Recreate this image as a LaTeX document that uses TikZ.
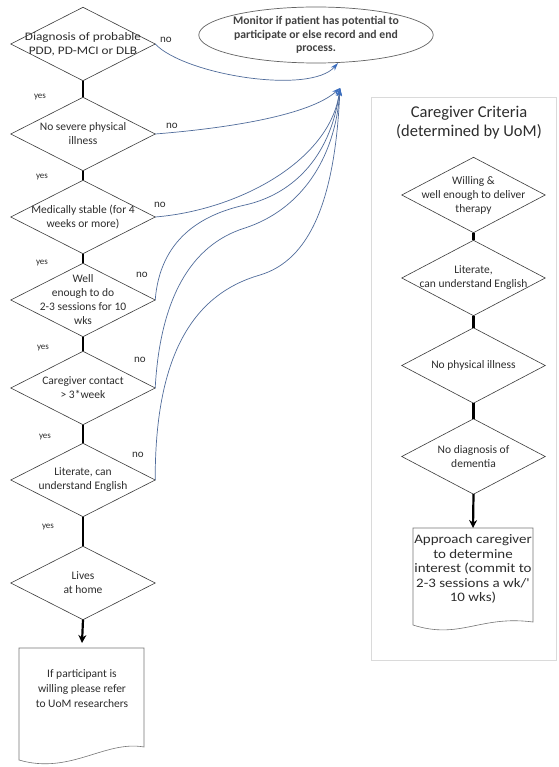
\documentclass[tikz,border=0pt]{standalone}
\usepackage{fontspec}
\setmainfont{Carlito}
\newfontfamily\widefont{Carlito}[FakeStretch=1.15]
\usetikzlibrary{shapes.geometric,arrows.meta,calc}
\definecolor{curveblue}{RGB}{80,108,155}
\definecolor{tipblue}{RGB}{60,110,190}
\definecolor{edgegray}{RGB}{60,60,60}
\definecolor{panelgray}{RGB}{218,218,218}
\definecolor{txt}{RGB}{45,45,45}
\begin{document}
\begin{tikzpicture}[x=1pt,y=-1pt,
  dia/.style={inner sep=0pt, minimum width=144pt, minimum height=73pt, align=center,
              font=\fontsize{11.5}{14}\selectfont, text=txt},
  rdia/.style={dia, minimum width=143pt, minimum height=75pt},
  diaedge/.style={draw=edgegray, line width=0.6pt},
  yesline/.style={line width=2.2pt, black},
  yesarrow/.style={line width=2.2pt, black, -{Stealth[length=8pt,width=8pt]}},
  nocurve/.style={draw=curveblue, line width=0.7pt, -{Stealth[length=8pt,width=5pt,color=tipblue]}},
  yeslab/.style={font=\fontsize{9}{10}\selectfont, text=txt, inner sep=0pt},
  nolab/.style={font=\fontsize{11}{12}\selectfont, text=txt, inner sep=0pt},
  doctext/.style={align=center, font=\fontsize{11.5}{15}\selectfont, text=txt, inner sep=0pt},
  docedge/.style={draw=edgegray!70, line width=0.6pt}
]
\useasboundingbox (0,0) rectangle (558,767);
\fill[white] (0,0) rectangle (558,767);

% right panel
\node[draw=panelgray, line width=0.8pt, minimum width=185pt, minimum height=563pt,
      anchor=north west, inner sep=0pt] (panel) at (371,97) {};
\node[align=center, font=\fontsize{16.5}{19}\selectfont, text=txt, inner sep=0pt] (title) at (469,122.5)
  {Caregiver Criteria\\(determined by UoM)};

% monitor ellipse
\node[ellipse, draw=edgegray!80, line width=0.7pt, minimum width=198pt, minimum height=56pt,
      inner sep=0pt, align=center, font=\bfseries\fontsize{11.7}{13.5}\selectfont, text=txt!90] (mon) at (316,35)
  {Monitor if patient has potential to\\participate or else record and end\\process.};

% left diamonds
\node[dia, font=\widefont\fontsize{11.5}{13.5}\selectfont] (d1) at (83,44)  {Diagnosis of probable\\PDD, PD-MCI or DLB};
\node[dia] (d2) at (83,134) {No severe physical\\illness};
\node[dia] (d3) at (83,217) {Medically stable (for 4\\weeks or more)};
\node[dia] (d4) at (83,300) {Well\\enough to do\\2-3 sessions for 10\\wks};
\node[dia] (d5) at (83,388) {Caregiver contact\\> 3*week};
\node[dia] (d6) at (83,480) {Literate, can\\understand English};
\node[dia] (d7) at (83,583) {Lives\\at home};

% right diamonds
\node[rdia] (r1) at (473.5,195)   {Willing \&\\well enough to deliver\\therapy};
\node[rdia] (r2) at (473.5,278)   {Literate,\\can understand English};
\node[rdia] (r3) at (473.5,365.5) {No physical illness};
\node[rdia] (r4) at (473.5,456.5) {No diagnosis of\\dementia};

\foreach \n in {d1,d2,d3,d4,d5,d6,d7,r1,r2,r3,r4}
  \draw[diaedge] (\n.north) -- (\n.east) -- (\n.south) -- (\n.west) -- cycle;

% documents
\node[doctext] (doc1) at (82,689) {If participant is\\willing please refer\\to UoM researchers};
\coordinate (doc1top) at ($(doc1.center)+(0,-41)$);
\draw[docedge] ($(doc1.center)+(-63,-41)$) -- ($(doc1.center)+(62,-41)$) -- ($(doc1.center)+(62,58)$)
  .. controls ($(doc1.center)+(23,51)$) and ($(doc1.center)+(-12,86)$) .. ($(doc1.center)+(-63,71)$) -- cycle;

\node[doctext, font=\widefont\fontsize{13}{14.5}\selectfont] (doc2) at (473,569)
  {Approach caregiver\\to determine\\interest (commit to\\2-3 sessions a wk/'\\10 wks)};
\coordinate (doc2top) at ($(doc2.center)+(0,-41)$);
\draw[docedge] ($(doc2.center)+(-60,-41)$) -- ($(doc2.center)+(60,-41)$) -- ($(doc2.center)+(60,53)$)
  .. controls ($(doc2.center)+(7,46)$) and ($(doc2.center)+(-13,71)$) .. ($(doc2.center)+(-60,56)$) -- cycle;

% yes connectors
\draw[yesline] (d1.south) -- (d2.north);
\draw[yesline] (d2.south) -- (d3.north);
\draw[yesline] (d3.south) -- (d4.north);
\draw[yesline] (d4.south) -- (d5.north);
\draw[yesline] (d5.south) -- (d6.north);
\draw[yesline] (d6.south) -- (d7.north);
\draw[yesarrow] (d7.south) -- ($(doc1top)+(0,-5)$);
\draw[yesline] (r1.south) -- (r2.north);
\draw[yesline] (r2.south) -- (r3.north);
\draw[yesline] (r3.south) -- (r4.north);
\draw[yesarrow] (r4.south) -- (doc2top);

\node[yeslab] (y1) at (40,97)  {yes};
\node[yeslab] (y2) at (42,177) {yes};
\node[yeslab] (y3) at (42,263) {yes};
\node[yeslab] (y4) at (43,348) {yes};
\node[yeslab] (y5) at (45,437) {yes};
\node[yeslab] (y6) at (48,527) {yes};

\node[nolab] (n1) at (166,40)  {no};
\node[nolab] (n2) at (172,126) {no};
\node[nolab] (n3) at (160,205) {no};
\node[nolab] (n4) at (142,275) {no};
\node[nolab] (n5) at (140,360) {no};
\node[nolab] (n6) at (138,455) {no};

% no curves
\coordinate (t1) at (338,63);
\coordinate (t2) at (340,88);
\draw[nocurve] (d1.east) .. controls (185,75) and (310,95) .. (t1);
\draw[nocurve] (d2.east) .. controls (230,128) and (310,115) .. (t2);
\draw[nocurve] (d3.east) .. controls (240,210) and (330,160) .. (t2);
\draw[nocurve] (d4.east) .. controls (160,240) and (200,215) .. (245,205) .. controls (290,195) and (330,160) .. (t2);
\draw[nocurve] (d5.east) .. controls (160,300) and (190,245) .. (245,228) .. controls (300,210) and (335,160) .. (t2);
\draw[nocurve] (d6.east) .. controls (155,360) and (190,295) .. (260,275) .. controls (310,260) and (335,200) .. (t2);
\end{tikzpicture}
\end{document}
